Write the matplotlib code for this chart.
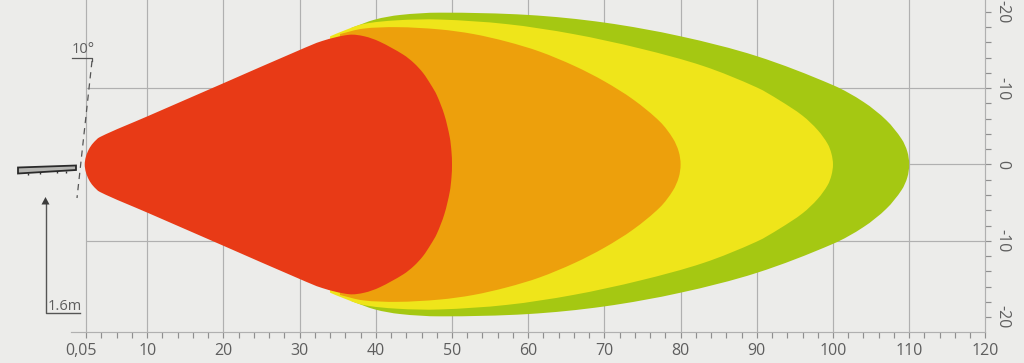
import numpy as np
from matplotlib import pyplot as plt
from matplotlib.patches import Polygon, PathPatch
from matplotlib.path import Path
from matplotlib.transforms import Affine2D, ScaledTranslation

plt.rcParams['font.family'] = ['Open Sans', 'DejaVu Sans']

# half width of each zone against distance
red_x = [1.8, 1.95, 2.35, 2.9, 3.8, 10, 20, 30, 33, 36.5, 38.5, 40.5, 43.6, 45.0, 46.2, 47.2, 48.0, 49.0, 49.7, 49.93, 50.0]
red_h = [0, 1.0, 2.0, 2.8, 3.6, 6.3, 10.65, 15.0, 16.2, 17.0, 16.8, 16.1, 14.4, 13.3, 12.0, 10.5, 9.1, 6.5, 3.6, 1.7, 0]

orange_x = [35.3, 38.3, 42.8, 48.4, 52.8, 57.2, 61.5, 66.1, 70.0, 73.8, 77.3, 79.0, 79.75, 80.0]
orange_h = [17.1, 17.8, 18.0, 17.7, 17.1, 16.1, 14.8, 12.9, 10.9, 8.5, 5.6, 3.4, 1.7, 0]

yellow_x = [34.0, 35.7, 38.3, 42.8, 48.4, 57.2, 65.9, 74.7, 83.0, 90.0, 93.0, 96.0, 98.0, 99.3, 99.8, 100.0]
yellow_h = [16.8, 17.5, 18.4, 18.9, 19.0, 18.4, 17.1, 15.2, 12.9, 10.1, 8.4, 6.4, 4.5, 2.7, 1.4, 0]

green_x = [36.8, 39.9, 43.2, 48.4, 60.0, 70.0, 80.0, 90.0, 100.0, 104.0, 107.0, 109.0, 109.75, 110.0]
green_h = [17.9, 19.0, 19.6, 19.9, 19.6, 18.6, 16.8, 14.2, 10.4, 8.2, 5.8, 3.35, 1.7, 0]

x_major = [2, 10, 20, 30, 40, 50, 60, 70, 80, 90, 100, 110, 120]
x_labels = ['0,05', '10', '20', '30', '40', '50', '60', '70', '80', '90', '100', '110', '120']
y_major = [20, 10, 0, -10, -20]
y_labels = ['-20', '-10', '0', '-10', '-20']

bg = '#ececea'
grid = '#b0b0b0'
ink = '#5e5e5e'


def zone_path(xs, hs):
    # bezier through the read points, upper edge then mirrored lower edge
    pts = np.array(list(zip(xs, hs)) + list(zip(xs[-2::-1], [-h for h in hs[-2::-1]])), dtype=float)
    n = len(pts)
    verts = [pts[0]]
    codes = [Path.MOVETO]
    tang = np.zeros_like(pts)
    for i in range(n):
        d = pts[min(i + 1, n - 1)] - pts[max(i - 1, 0)]
        tang[i] = d / np.hypot(*d)
    if hs[0] == 0:
        tang[0] = tang[-1] = (0, 1)
    for i in range(n - 1):
        chord = np.hypot(*(pts[i + 1] - pts[i])) / 3
        verts += [pts[i] + tang[i] * chord, pts[i + 1] - tang[i + 1] * chord, pts[i + 1]]
        codes += [Path.CURVE4] * 3
    verts.append(pts[0])
    codes.append(Path.CLOSEPOLY)
    return Path(verts, codes)


fig = plt.figure(figsize=(10.24, 3.63), dpi=100, facecolor=bg)
ax = fig.add_axes([0, 0, 1, 1], facecolor=bg)
ax.set_xlim(-71.0 / 7.62, (1024 - 71.0) / 7.62)
ax.set_ylim(-(363 - 164.5) / 7.63, 164.5 / 7.63)

# grid, stops at the two axes
ax.vlines(x_major[:-1], -22, 22, color=grid, lw=0.85, zorder=1)
ax.hlines([-10, 0, 10], 2, 120, color=grid, lw=0.85, zorder=1)

# zones, biggest first
for xs, hs, col in [(green_x, green_h, '#a5c812'), (yellow_x, yellow_h, '#efe51a'),
                    (orange_x, orange_h, '#eda00c'), (red_x, red_h, '#e83a16')]:
    ax.add_patch(PathPatch(zone_path(xs, hs), fc=col, ec='none', lw=0, zorder=2))

# axes
for s in ['top', 'left']:
    ax.spines[s].set_visible(False)
ax.spines['bottom'].set_position(('data', -22))
ax.spines['bottom'].set_bounds(0, 120)
ax.spines['right'].set_position(('data', 120))
ax.spines['right'].set_bounds(-22, 22)
for s in ['bottom', 'right']:
    ax.spines[s].set_color(grid)
    ax.spines[s].set_linewidth(0.85)

ax.yaxis.tick_right()
ax.set_xticks(x_major, x_labels)
ax.set_xticks(np.arange(2, 121, 2), minor=True)
ax.set_yticks(y_major, y_labels)
ax.set_yticks(np.arange(-20, 21, 2), minor=True)
ax.tick_params(which='both', length=4.5, width=0.85, color='#8f8f8f')
ax.tick_params(axis='x', which='major', labelsize=11.5, labelcolor=ink, pad=3)
ax.tick_params(axis='y', which='major', labelsize=11.5, labelcolor=ink, pad=2, labelrotation=-90)
for t in ax.get_yticklabels():
    t.set_va('center')
# the first label sits a bit left of its tick
lab = ax.get_xticklabels()[0]
lab.set_transform(lab.get_transform() + ScaledTranslation(-5 / 100, 0, fig.dpi_scale_trans))

# mounting sketch on the left, placed in figure pixels
px = Affine2D().scale(1, -1).translate(0, 363)
ax.plot([72, 92, 92], [58, 58, 61], color='#555555', lw=0.9, transform=px, zorder=3)
ax.plot([92, 77], [61, 198], color='#555555', lw=0.9, dashes=(5, 4), transform=px, zorder=3)
ax.text(72, 53, '10°', fontsize=10.5, color=ink, transform=px, va='baseline', ha='left')

ax.add_patch(Polygon([[18, 167.5], [76, 165.5], [76, 170], [18, 173.5]], closed=True, fc='#b4b4b1', ec='#2a2a2a',
                     lw=1.3, transform=px, zorder=3))
ax.plot([28, 40, 57, 66], [174, 173, 172, 171.5], ls='none', marker='|', ms=2, color='#333333', transform=px)

ax.plot([80, 45.5, 45.5], [313, 313, 204], color='#555555', lw=1, transform=px, zorder=3)
ax.add_patch(Polygon([[45.5, 197], [41.5, 204.5], [49.5, 204.5]], closed=True, fc='#3c3c3c', ec='none',
                     transform=px, zorder=3))
ax.text(48, 310, '1.6m', fontsize=10.5, color=ink, transform=px, va='baseline', ha='left')

fig.savefig('out.png', dpi=100, facecolor=bg)
